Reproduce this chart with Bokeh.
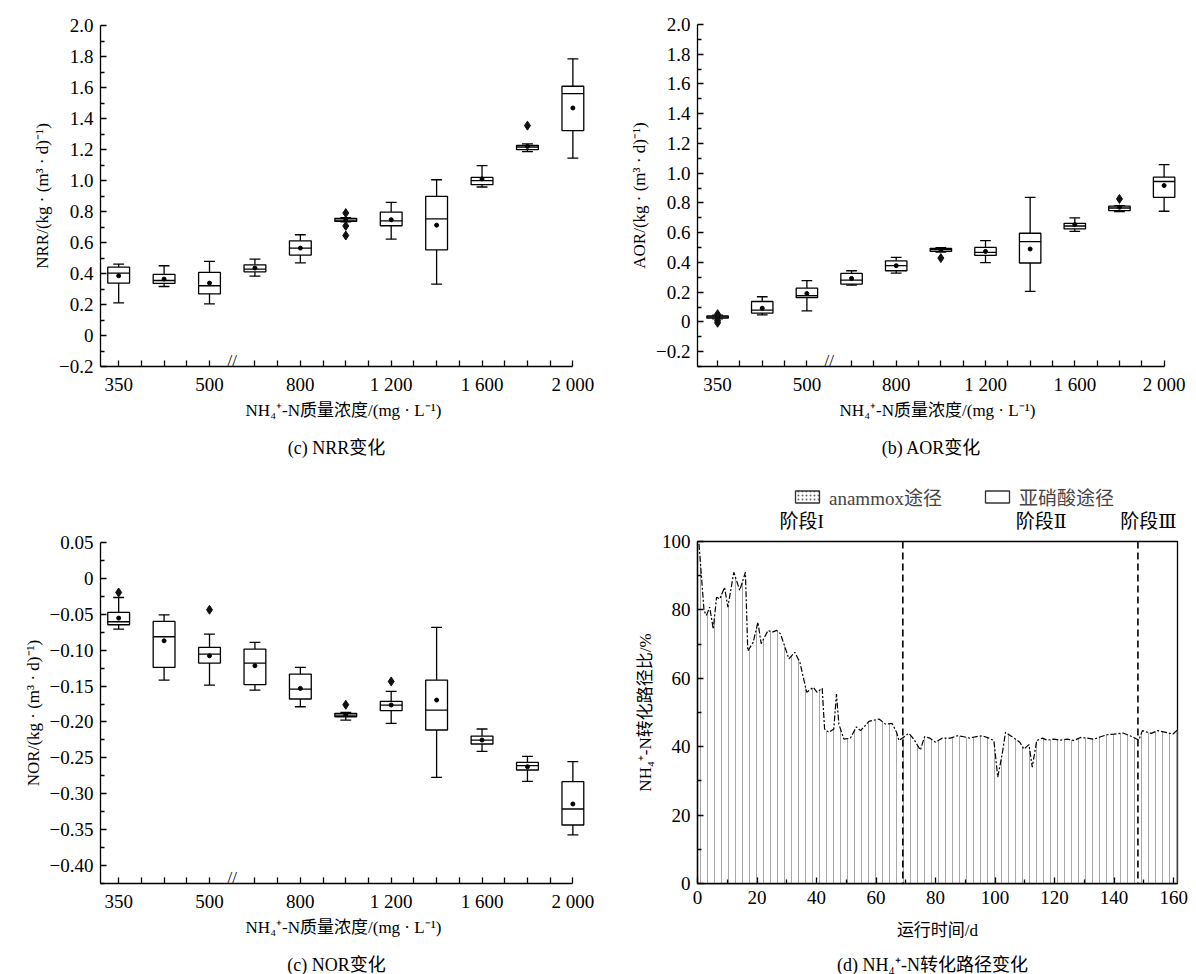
from bokeh.plotting import figure
from bokeh.models import (FixedTicker, Label, Legend, LegendItem, Span, Range1d)
from bokeh.layouts import column, row
from bokeh.embed import file_html
from bokeh.resources import INLINE
from bokeh.core.properties import value
import numpy as np

FONT = "'Liberation Serif', 'Noto Sans CJK SC', serif"
STAGE_FONT = "'Liberation Serif', 'DejaVu Serif', 'Noto Sans CJK SC', serif"

# ---------------- data ----------------
conc = [350, 400, 500, 600, 800, 1000, 1200, 1400, 1600, 1800, 2000]
conc_tick_labels = {0: "350", 2: "500", 4: "800", 6: "1 200", 8: "1 600", 10: "2 000"}

# NRR box statistics
nrr_lo = [0.210, 0.316, 0.204, 0.383, 0.469, 0.734, 0.622, 0.331, 0.958, 1.186, 1.145]
nrr_q1 = [0.338, 0.336, 0.269, 0.411, 0.519, 0.736, 0.708, 0.553, 0.973, 1.199, 1.322]
nrr_med = [0.403, 0.355, 0.321, 0.428, 0.564, 0.745, 0.740, 0.753, 0.999, 1.216, 1.561]
nrr_q3 = [0.441, 0.394, 0.407, 0.456, 0.611, 0.756, 0.796, 0.898, 1.020, 1.227, 1.608]
nrr_hi = [0.461, 0.450, 0.478, 0.493, 0.650, 0.760, 0.859, 1.005, 1.096, 1.236, 1.785]
nrr_mean = [0.385, 0.364, 0.338, 0.435, 0.564, 0.745, 0.747, 0.712, 1.010, 1.220, 1.468]
nrr_out_i = [5, 5, 5, 9]
nrr_out_v = [0.790, 0.707, 0.645, 1.354]

# AOR box statistics
aor_lo = [0.020, 0.047, 0.074, 0.247, 0.328, 0.470, 0.398, 0.205, 0.609, 0.742, 0.744]
aor_q1 = [0.025, 0.059, 0.164, 0.254, 0.344, 0.474, 0.447, 0.396, 0.625, 0.748, 0.838]
aor_med = [0.033, 0.079, 0.176, 0.281, 0.378, 0.486, 0.468, 0.540, 0.645, 0.766, 0.944]
aor_q3 = [0.040, 0.137, 0.227, 0.326, 0.411, 0.495, 0.501, 0.596, 0.663, 0.778, 0.973]
aor_hi = [0.045, 0.169, 0.277, 0.344, 0.434, 0.500, 0.546, 0.838, 0.699, 0.782, 1.058]
aor_mean = [0.033, 0.092, 0.191, 0.292, 0.378, 0.486, 0.474, 0.490, 0.654, 0.771, 0.917]
aor_out_i = [0, 0, 0, 5, 9]
aor_out_v = [0.052, 0.008, -0.006, 0.429, 0.827]

# NOR box statistics
nor_lo = [-0.0706, -0.1416, -0.1486, -0.1555, -0.1788, -0.1973, -0.2020, -0.2771, -0.2409, -0.2827, -0.3574]
nor_q1 = [-0.0646, -0.1240, -0.1180, -0.1481, -0.1680, -0.1927, -0.1843, -0.2112, -0.2307, -0.2669, -0.3435]
nor_med = [-0.0604, -0.0813, -0.1054, -0.1180, -0.1542, -0.1904, -0.1764, -0.1834, -0.2252, -0.2609, -0.3212]
nor_q3 = [-0.0474, -0.0600, -0.0962, -0.0985, -0.1333, -0.1880, -0.1713, -0.1416, -0.2196, -0.2562, -0.2832]
nor_hi = [-0.0266, -0.0507, -0.0776, -0.0892, -0.1240, -0.1866, -0.1574, -0.0683, -0.2098, -0.2479, -0.2553]
nor_mean = [-0.0553, -0.0869, -0.1078, -0.1217, -0.1532, -0.1900, -0.1764, -0.1695, -0.2252, -0.2623, -0.3142]
nor_out_i = [0, 2, 5, 6]
nor_out_v = [-0.0196, -0.0437, -0.1760, -0.1435]

# NH4+-N conversion pathway (anammox share, %)
run_days = [0.5, 2.2, 3.0, 4.1, 5.3, 6.4, 7.5, 9.1, 10.2, 12.2,
            14.2, 16.1, 16.9, 18.7, 20.3, 21.4, 23.7, 25.1, 26.6, 27.9,
            30.7, 32.7, 34.4, 36.7, 38.9, 40.2, 41.9, 42.7, 44.1, 45.8,
            46.7, 47.5, 49.2, 51.4, 53.4, 54.8, 57.6, 61.0, 63.2, 65.4,
            66.9, 67.7, 71.0, 72.7, 74.9, 76.3, 78.1, 80.0, 82.2, 85.0,
            87.3, 89.5, 91.5, 93.4, 95.7, 97.9, 99.6, 100.9, 102.4, 103.5,
            105.2, 106.9, 108.3, 109.7, 111.4, 112.5, 114.0, 115.9, 117.5, 119.8,
            122.0, 124.3, 126.5, 128.7, 131.0, 133.2, 135.5, 137.5, 140.0, 143.0,
            146.2, 148.3, 149.5, 152.5, 154.6, 157.9, 159.8, 161.3]
anammox_pct = [99.3, 79.8, 78.4, 80.8, 74.4, 83.7, 83.2, 86.6, 80.8, 91.0,
               85.7, 91.0, 68.0, 70.5, 76.4, 70.1, 74.0, 73.5, 74.0, 73.0,
               65.7, 67.6, 64.7, 55.9, 57.4, 55.9, 57.1, 45.2, 44.2, 45.2,
               55.4, 46.6, 42.2, 42.5, 45.8, 44.7, 47.4, 48.1, 46.6, 46.8,
               44.2, 41.8, 43.9, 42.2, 39.0, 42.9, 42.5, 41.3, 42.5, 42.5,
               43.2, 42.9, 42.5, 42.9, 43.2, 42.5, 41.8, 31.1, 37.9, 44.2,
               43.2, 42.2, 41.3, 39.3, 40.6, 34.0, 41.8, 42.5, 41.9, 42.2,
               41.9, 42.2, 41.8, 42.7, 42.5, 42.2, 42.9, 43.5, 43.7, 44.0,
               42.9, 41.9, 44.7, 43.9, 44.7, 44.1, 43.7, 44.9]
stage_bounds = [69, 148]
stage_names = ["阶段I", "阶段Ⅱ", "阶段Ⅲ"]
stage_label_day = [35, 115.5, 151.5]

XLABEL = "NH₄⁺-N质量浓度/(mg · L⁻¹)"
TICK_FS = "19px"
LABEL_FS = "17px"
CAP_FS = "18px"

# borders shared by every figure of a column (Bokeh aligns them)
L_LEFT, L_RIGHT = 100, 12
R_LEFT, R_RIGHT = 99, 19


def style_axes(p):
    for ax in p.axis:
        ax.axis_line_width = 1.3
        ax.major_tick_line_width = 1.3
        ax.minor_tick_line_width = 1.3
        ax.major_tick_in = 6
        ax.major_tick_out = 0
        ax.minor_tick_in = 4
        ax.minor_tick_out = 0
        ax.major_label_text_font = FONT
        ax.major_label_text_font_size = TICK_FS
        ax.major_label_text_color = "black"
        ax.axis_label_text_font = FONT
        ax.axis_label_text_font_size = LABEL_FS
        ax.axis_label_text_font_style = "normal"
        ax.axis_label_text_color = "black"
        ax.major_label_standoff = 7
    p.xaxis.axis_label_standoff = 3
    p.yaxis.axis_label_standoff = 4


def caption_strip(text, left, right, h, cx, cy):
    # x range in the column's pixel coordinates so the caption sits where wanted
    c = figure(width=598, height=h, x_range=Range1d(left, 598 - right), y_range=Range1d(0, h),
               output_backend="svg", toolbar_location=None,
               x_axis_location=None, y_axis_location=None,
               min_border_left=left, min_border_right=right, min_border_top=0,
               min_border_bottom=0)
    c.grid.visible = False
    c.outline_line_color = None
    c.text(x=[cx], y=[cy], text=[text], text_align="center", text_baseline="middle",
           text_font=value(FONT), text_font_size=CAP_FS, text_color="black")
    return c


def box_panel(lo, q1, med, q3, hi, mean, out_i, out_v, yr, yticks, yminor, ylabels,
              ylabel, width, height, borders, xstart):
    bl, br, bt, bb = borders
    p = figure(width=width, height=height, x_range=Range1d(xstart, 10.3),
               y_range=Range1d(*yr), output_backend="svg", toolbar_location=None,
               min_border_left=bl, min_border_right=br, min_border_top=bt,
               min_border_bottom=bb)
    p.outline_line_color = None
    p.grid.visible = False
    pos = np.arange(len(conc), dtype=float)
    minor_x = [v for v in np.arange(0, 10.01, 0.5) if v not in (0, 2, 4, 6, 8, 10, 2.5)]
    p.xaxis.ticker = FixedTicker(ticks=[0, 2, 4, 6, 8, 10], minor_ticks=minor_x)
    p.xaxis.major_label_overrides = conc_tick_labels
    p.xaxis.bounds = (xstart, 10)
    p.yaxis.ticker = FixedTicker(ticks=yticks, minor_ticks=yminor)
    p.yaxis.major_label_overrides = dict(zip(yticks, ylabels))
    p.xaxis.axis_label = XLABEL
    p.yaxis.axis_label = ylabel
    style_axes(p)
    p.xaxis.minor_tick_in = 6

    lw = 1.3
    p.segment(x0=pos, y0=q3, x1=pos, y1=hi, line_color="black", line_width=lw)
    p.segment(x0=pos, y0=q1, x1=pos, y1=lo, line_color="black", line_width=lw)
    p.segment(x0=pos - 0.12, y0=hi, x1=pos + 0.12, y1=hi, line_color="black", line_width=lw)
    p.segment(x0=pos - 0.12, y0=lo, x1=pos + 0.12, y1=lo, line_color="black", line_width=lw)
    p.vbar(x=pos, width=0.48, bottom=q1, top=q3, fill_color="white",
           line_color="black", line_width=lw)
    p.segment(x0=pos - 0.24, y0=med, x1=pos + 0.24, y1=med, line_color="black", line_width=lw)
    p.scatter(x=pos, y=mean, size=4, marker="circle", color="black")
    p.scatter(x=out_i, y=out_v, size=9, marker="diamond", color="#111111")

    p.add_layout(Label(x=2.5, y=yr[0], text="//", text_align="center",
                       text_baseline="bottom", y_offset=-3, text_font=FONT,
                       text_font_size="17px", text_color="black"))
    return p


def fmt(v, nd):
    if abs(v) < 1e-12:
        return "0"
    s = f"{abs(v):.{nd}f}"
    return ("−" + s) if v < 0 else s


TOP_H = 430      # top row plot height (caption strip of 30 px below)
nrr_ticks = [round(-0.2 + 0.2 * i, 3) for i in range(12)]
nrr_minor = [round(-0.1 + 0.2 * i, 3) for i in range(11)]
p1 = box_panel(nrr_lo, nrr_q1, nrr_med, nrr_q3, nrr_hi, nrr_mean, nrr_out_i, nrr_out_v,
               (-0.2, 2.0), nrr_ticks, nrr_minor, [fmt(v, 1) for v in nrr_ticks],
               "NRR/(kg · (m³ · d)⁻¹)", 598, TOP_H, (L_LEFT, L_RIGHT, 25, TOP_H - 366), -0.4)

aor_ticks = [round(-0.2 + 0.2 * i, 3) for i in range(12)]
aor_minor = [round(-0.3 + 0.2 * i, 3) for i in range(12)]
p2 = box_panel(aor_lo, aor_q1, aor_med, aor_q3, aor_hi, aor_mean, aor_out_i, aor_out_v,
               (-0.3, 2.0), aor_ticks, aor_minor, [fmt(v, 1) for v in aor_ticks],
               "AOR/(kg · (m³ · d)⁻¹)", 598, TOP_H, (R_LEFT, R_RIGHT, 24, TOP_H - 366), -0.45)

BOT_H = 490      # bottom row plot height (caption strip of 24 px below)
nor_ticks = [round(0.05 - 0.05 * i, 3) for i in range(10)]
nor_minor = [round(0.025 - 0.05 * i, 4) for i in range(10)]
p3 = box_panel(nor_lo, nor_q1, nor_med, nor_q3, nor_hi, nor_mean, nor_out_i, nor_out_v,
               (-0.425, 0.05), nor_ticks, nor_minor, [fmt(v, 2) for v in nor_ticks],
               "NOR/(kg · (m³ · d)⁻¹)", 598, BOT_H, (L_LEFT, L_RIGHT, 82, 67), -0.4)

# ---------------- panel (d) ----------------
XMAX = 161.3
HDR_H = 71
p4 = figure(width=598, height=BOT_H - HDR_H, x_range=Range1d(0, XMAX), y_range=Range1d(0, 100),
            output_backend="svg", toolbar_location=None,
            min_border_left=R_LEFT, min_border_right=R_RIGHT, min_border_top=10,
            min_border_bottom=67)
p4.grid.visible = False
p4.outline_line_color = "black"
p4.outline_line_width = 1.3
p4.xaxis.ticker = FixedTicker(ticks=list(range(0, 161, 20)), minor_ticks=list(range(10, 161, 20)))
p4.yaxis.ticker = FixedTicker(ticks=list(range(0, 101, 20)), minor_ticks=list(range(10, 101, 20)))
p4.xaxis.axis_label = "运行时间/d"
p4.yaxis.axis_label = "NH₄⁺-N转化路径比/%"
style_axes(p4)
p4.xaxis.axis_label_standoff = 14

r_ana = p4.varea(x=run_days, y1=0, y2=anammox_pct, fill_color="white",
                 hatch_pattern="vertical_line", hatch_color="#a8a8a8", hatch_scale=7,
                 hatch_weight=1)
p4.line(x=run_days, y=anammox_pct, line_color="black", line_width=1.2, line_dash="6 2 2 2")
for b in stage_bounds:
    p4.add_layout(Span(location=b, dimension="height", line_color="black",
                       line_width=1.6, line_dash="7 4"))

# header strip above panel (d): legend and stage names (same x scale as panel d)
hdr = figure(width=598, height=HDR_H, x_range=Range1d(0, XMAX),
             y_range=Range1d(0, HDR_H), output_backend="svg", toolbar_location=None,
             x_axis_location=None, y_axis_location=None,
             min_border_left=R_LEFT, min_border_right=R_RIGHT, min_border_top=0,
             min_border_bottom=0)
hdr.grid.visible = False
hdr.outline_line_color = None
hdr.text(x=stage_label_day, y=[10] * len(stage_names), text=stage_names,
         text_align="center", text_baseline="middle", text_font=value(STAGE_FONT),
         text_font_size="19px", text_color="black")
# legend proxies (hidden renderers spanning the data extent)
leg_a = hdr.quad(left=[run_days[0]], right=[run_days[-1]], bottom=[0], top=[1],
                 fill_color="white", hatch_pattern="dot", hatch_color="#666666",
                 hatch_scale=4, line_color="#333333", line_width=1.3, visible=False)
leg_n = hdr.quad(left=[run_days[0]], right=[run_days[-1]], bottom=[0], top=[1],
                 fill_color="white", line_color="#333333", line_width=1.3, visible=False)
legend = Legend(items=[LegendItem(label="anammox途径", renderers=[leg_a]),
                       LegendItem(label="亚硝酸途径", renderers=[leg_n])],
                orientation="horizontal", location=(95, 21), glyph_width=30,
                glyph_height=15, label_standoff=7, spacing=40, padding=0, margin=0,
                border_line_color=None, background_fill_alpha=0,
                label_text_font=FONT, label_text_font_size="19px")
hdr.add_layout(legend)

cap1 = caption_strip("(c) NRR变化", L_LEFT, L_RIGHT, 30, 336, 13)
cap2 = caption_strip("(b) AOR变化", R_LEFT, R_RIGHT, 30, 333, 13)
cap3 = caption_strip("(c) NOR变化", L_LEFT, L_RIGHT, 24, 336, 10)
cap4 = caption_strip("(d) NH₄⁺-N转化路径变化", R_LEFT, R_RIGHT, 24, 334, 10)

layout = row(column(p1, cap1, p3, cap3), column(p2, cap2, hdr, p4, cap4))
open("out.html", "w").write(file_html(layout, INLINE))
